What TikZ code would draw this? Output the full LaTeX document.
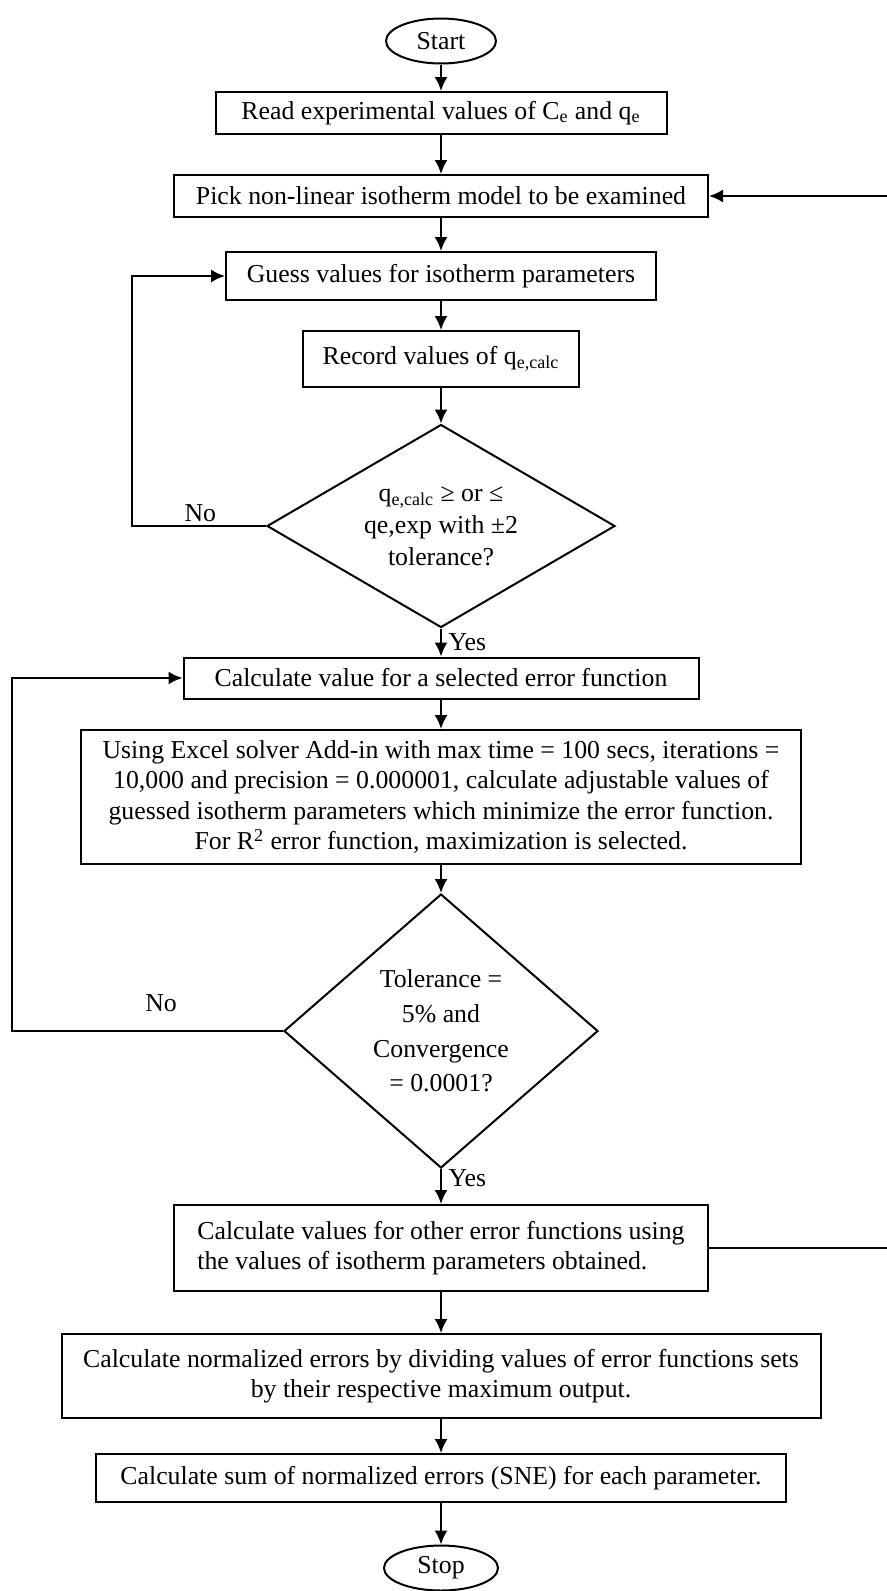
\documentclass[tikz,border=0pt]{standalone}
\usepackage{fontspec}
\setmainfont{Liberation Serif}
\usetikzlibrary{shapes.geometric, arrows.meta}

\tikzset{
    block/.style={draw, rectangle, line width=1pt, inner sep=0pt, align=center},
    decision/.style={draw, diamond, line width=1pt, inner sep=0pt, align=center},
    terminal/.style={draw, ellipse, line width=1pt, inner sep=0pt, minimum width=55pt, minimum height=22.5pt}
}

\begin{document}
\begin{tikzpicture}[x=0.5pt, y=-0.5pt, >={Latex[length=7pt,width=6.5pt]}, line width=1pt,
        font=\fontsize{12.9}{15.3}\selectfont]
        \useasboundingbox (0,0) rectangle (887,1591);

        \node[terminal] (start) at (441,41) {Start};

        \node (read) [block, below of=start, node distance=36pt, minimum width=225.5pt, minimum height=21pt]
            {Read experimental values of C\textsubscript{e} and q\textsubscript{e}};
        \node (pick) [block, below of=read, node distance=41.5pt, minimum width=267pt, minimum height=21pt]
            {Pick non-linear isotherm model to be examined};
        \node (guess) [block, below of=pick, node distance=40pt, minimum width=215pt, minimum height=24pt]
            {Guess values for isotherm parameters};
        \node (record) [block, below of=guess, node distance=41.5pt, minimum width=138pt, minimum height=28pt]
            {Record values of q\textsubscript{e,calc}};

        \node (check) [decision, below of=record, node distance=83.5pt, aspect=1.71, minimum width=174pt, minimum height=101.5pt,
            font=\fontsize{12.9}{16}\selectfont]
            {q\textsubscript{e,calc} ≥ or ≤\\ qe,exp with ±2\\ tolerance?};

        \node (calc) [block, below of=check, node distance=76pt, minimum width=257.5pt, minimum height=20.5pt]
            {Calculate value for a selected error function};
        \node (solver) [block, below of=calc, node distance=59.5pt, minimum width=360pt, minimum height=67pt]
            {Using Excel solver Add-in with max time = 100 secs, iterations =\\
             10,000 and precision = 0.000001, calculate adjustable values of\\
             guessed isotherm parameters which minimize the error function.\\
             For R\textsuperscript{2} error function, maximization is selected.};

        \node (conv) [decision, below of=solver, node distance=117pt, aspect=1.15, minimum width=157pt, minimum height=137pt,
            font=\fontsize{12.9}{17.3}\selectfont]
            {Tolerance =\\ 5\% and\\ Convergence\\ = 0.0001?};

        \node (other) [block, below of=conv, node distance=108.5pt, minimum width=267pt, minimum height=43pt, align=left]
            {Calculate values for other error functions using\\ the values of isotherm parameters obtained.};
        \node (norm) [block, below of=other, node distance=64pt, minimum width=379.5pt, minimum height=42pt]
            {Calculate normalized errors by dividing values of error functions sets\\ by their respective maximum output.};
        \node (sne) [block, below of=norm, node distance=51pt, minimum width=345pt, minimum height=24pt]
            {Calculate sum of normalized errors (SNE) for each parameter.};

        \node[terminal, minimum width=57pt] (stop) [below of=sne, node distance=45pt] {Stop};

        \coordinate (loopA) at (132,0);
        \coordinate (loopB) at (12,0);
        \coordinate (edgeR) at (887,0);

        \path[->]
            (start) edge (read)
            (read) edge (pick)
            (pick) edge (guess)
            (guess) edge (record)
            (record) edge (check)
            (check) edge node [right, pos=0.5] {Yes} (calc)
            (calc) edge (solver)
            (solver) edge (conv)
            (conv) edge node [right, pos=0.25] {Yes} (other)
            (other) edge (norm)
            (norm) edge (sne)
            (sne) edge (stop)
        ;

        \draw[->] (check.west) -- node [above, inner sep=1.5pt, pos=0.49] {No} (check.west -| loopA) |- (guess.west);
        \draw[->] (conv.west) -- node [above=6pt, pos=0.45] {No} (conv.west -| loopB) |- (calc.west);

        \draw (other.east) -- (other.east -| edgeR);
        \draw[->] (pick.east -| edgeR) -- (pick.east);
    \end{tikzpicture}
\end{document}
